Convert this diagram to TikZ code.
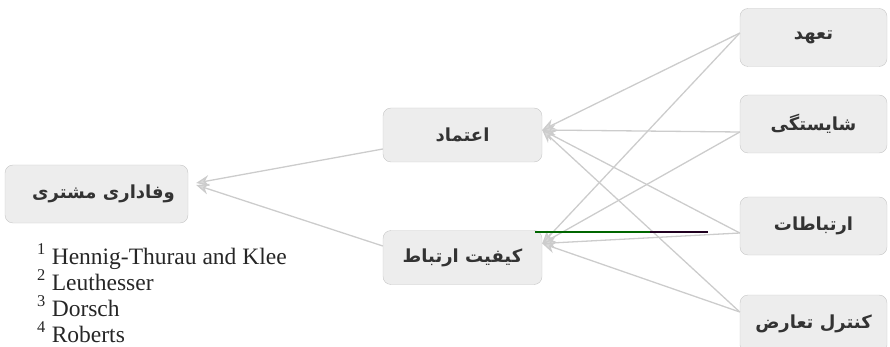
\documentclass[tikz,border=0pt]{standalone}
\usepackage{fontspec}
\setmainfont{Liberation Serif}
\newfontfamily\arabicfont[Script=Arabic]{DejaVu Sans}
\TeXXeTstate=1
\usetikzlibrary{arrows.meta}
\begin{document}
\begin{tikzpicture}[x=1pt,y=-1pt,
  box/.style={draw=gray!45, fill=gray!14, rounded corners=8pt, inner sep=0pt,
    font=\arabicfont\bfseries\fontsize{18}{21}\selectfont, text=black!80},
  rbox/.style={box, minimum width=147pt, minimum height=58pt},
  mbox/.style={box, minimum width=159pt, minimum height=54pt},
  conn/.style={draw=gray!40, line width=1.3pt,
    -{Stealth[length=13pt,width=11pt,fill=gray!30]}},
  foot/.style={anchor=base west, font=\fontsize{23.5}{28}\selectfont, text=black!85, inner sep=0pt}]
\useasboundingbox (0,0) rectangle (890,347);
% boxes
\node[box, minimum width=183pt, minimum height=58pt] (loyal) at (96.5,194) {\hspace*{14pt}\beginR وفاداری مشتری\endR};
\node[mbox] (trust) at (462.5,135) {\beginR اعتماد\endR};
\node[mbox] (rq) at (462.5,257.5) {\beginR کیفیت ارتباط\endR};
\node[rbox] (commit) at (813.5,37.5) {\beginR تعهد\endR};
\node[rbox] (comp) at (813.5,124) {\beginR شایستگی\endR};
\node[rbox] (comm) at (813.5,226) {\beginR ارتباطات\endR};
\node[rbox] (confl) at (813.5,324) {\beginR کنترل تعارض\endR};
% connectors right -> middle
\draw[conn] ([yshift=4.5pt]commit.west) -- ([yshift=5pt]trust.east);
\draw[conn] ([yshift=4.5pt]commit.west) -- ([yshift=14pt]rq.east);
\draw[conn] ([yshift=-8pt]comp.west) -- ([yshift=5pt]trust.east);
\draw[conn] ([yshift=-8pt]comp.west) -- ([yshift=14pt]rq.east);
\draw[conn] ([yshift=-7pt]comm.west) -- ([yshift=5pt]trust.east);
\draw[conn] ([yshift=-7pt]comm.west) -- ([yshift=14pt]rq.east);
\draw[conn] ([yshift=12pt]confl.west) -- ([yshift=5pt]trust.east);
\draw[conn] ([yshift=12pt]confl.west) -- ([yshift=14pt]rq.east);
% middle -> left
\draw[conn] ([yshift=-14pt]trust.west) -- ([xshift=8pt,yshift=11pt]loyal.east);
\draw[conn] ([yshift=11.5pt]rq.west) -- ([xshift=8pt,yshift=9pt]loyal.east);
% dark stroke
\coordinate (g1) at (535,232);
\coordinate (g2) at (650,232);
\coordinate (g3) at (708,232);
\draw[line width=1.4pt, green!40!black] (g1) -- (g2);
\draw[line width=1.4pt, black!75!violet] (g2) -- (g3);
% footnotes
\node[foot] (f1) at (37,264) {\textsuperscript{1} Hennig-Thurau and Klee};
\node[foot] (f2) at (37,290) {\textsuperscript{2} Leuthesser};
\node[foot] (f3) at (37,316) {\textsuperscript{3} Dorsch};
\node[foot] (f4) at (37,342) {\textsuperscript{4} Roberts};
\end{tikzpicture}
\end{document}
